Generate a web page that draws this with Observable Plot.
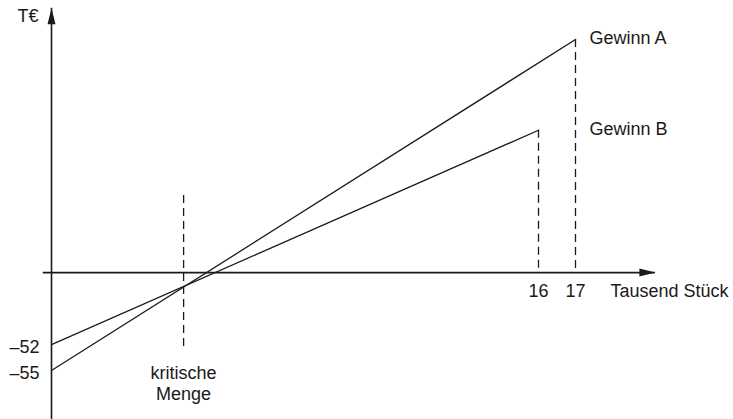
<!DOCTYPE html>
<html><head><meta charset="utf-8">
<script src="https://cdn.jsdelivr.net/npm/d3@7"></script>
<script src="https://cdn.jsdelivr.net/npm/@observablehq/plot@0.6"></script>
<style>body{margin:0;background:#fff}svg{display:block}</style>
</head><body><div id="chart"></div>
<script>
// Data (schematic break-even chart, values in T€ and Tausend Stück)
const mengeA = [0, 17];
const gewinnA = [-55, 131];
const mengeB = [0, 16];
const gewinnB = [-52, 80];
const kritischeMenge = 4.34;
const kritischBereich = [43.3, -52.58];
const xTicks = [16, 17];
const xTickLabels = ["16", "17"];
const yTicks = [-52, -55];
const yTickLabels = ["\u201352", "\u201355"];
const xAxisExtent = [-0.27, 19.16];
const yAxisExtent = [-61, 148.5];
const seriesNames = ["Gewinn A", "Gewinn B"];
const xTitle = "Tausend Stück";
const yTitle = "T€";
const kritLabel = "kritische\nMenge";

// The original drawing is schematic (not to scale): these map values onto the drawing's axes
const xSchema = d3.scaleLinear().domain([0, 16, 17]).range([0, 16, 17.215]);
const ySchema = d3.scaleLinear().domain([-55, -52, 0, 131]).range([-55, -40.46, 0, 131]);

const lineA = mengeA.map((x, i) => ({x, y: gewinnA[i]}));
const lineB = mengeB.map((x, i) => ({x, y: gewinnB[i]}));
const ends = [
  {x: mengeA[1], y: gewinnA[1], name: seriesNames[0]},
  {x: mengeA[1], y: gewinnB[1], name: seriesNames[1]}
];

const arrowUp = {draw(c) { c.moveTo(0, 0); c.lineTo(4, 16); c.lineTo(-4, 16); c.closePath(); }};
const arrowRight = {draw(c) { c.moveTo(0, 0); c.lineTo(-16, -4); c.lineTo(-16, 4); c.closePath(); }};

const ink = "#1a1a1a";
const font = "Liberation Sans, Arial, Helvetica, sans-serif";
const fs = 18;

const chart = Plot.plot({
  width: 733,
  height: 419,
  margin: 0,
  style: {fontFamily: font, background: "#fff", color: ink},
  x: {transform: xSchema, domain: [xSchema(0), xSchema(17)], range: [51, 575], axis: null},
  y: {transform: ySchema, domain: [ySchema(-55), ySchema(131)], range: [370, 39], axis: null},
  marks: [
    // axes
    Plot.ruleY([0], {x1: xAxisExtent[0], x2: xAxisExtent[1], stroke: ink, strokeWidth: 1.6}),
    Plot.ruleX([0], {y1: yAxisExtent[0], y2: yAxisExtent[1], stroke: ink, strokeWidth: 1.6}),
    Plot.dot([{x: 0, y: yAxisExtent[1]}], {x: "x", y: "y", symbol: arrowUp, fill: ink, stroke: null}),
    Plot.dot([{x: xAxisExtent[1], y: 0}], {x: "x", y: "y", symbol: arrowRight, fill: ink, stroke: null}),
    // dashed verticals
    Plot.ruleX([mengeA[1]], {y1: gewinnA[1], y2: 0, stroke: ink, strokeWidth: 1.3, strokeDasharray: "8,5"}),
    Plot.ruleX([mengeB[1]], {y1: gewinnB[1], y2: 0, stroke: ink, strokeWidth: 1.3, strokeDasharray: "8,5"}),
    Plot.ruleX([kritischeMenge], {y1: kritischBereich[0], y2: kritischBereich[1], stroke: ink, strokeWidth: 1.3, strokeDasharray: "8,5"}),
    // profit lines
    Plot.line(lineA, {x: "x", y: "y", stroke: ink, strokeWidth: 1.3}),
    Plot.line(lineB, {x: "x", y: "y", stroke: ink, strokeWidth: 1.3}),
    // tick labels
    Plot.text(xTicks, {x: d => d, y: 0, text: (d, i) => xTickLabels[i], dy: 19, fontSize: fs, fill: ink}),
    Plot.text(yTicks, {x: 0, y: d => d, text: (d, i) => yTickLabels[i], textAnchor: "end", dx: -12, dy: 3, fontSize: fs, fill: ink}),
    // titles
    Plot.text([xTitle], {x: mengeA[1], y: 0, text: d => d, textAnchor: "start", dx: 35, dy: 19, fontSize: fs, fill: ink}),
    Plot.text([yTitle], {x: 0, y: yAxisExtent[1], text: d => d, textAnchor: "end", dx: -13, dy: 8, fontSize: fs, fill: ink}),
    Plot.text(ends, {x: "x", y: "y", text: "name", textAnchor: "start", dx: 14, dy: -1, fontSize: fs, fill: ink}),
    Plot.text([kritLabel], {x: kritischeMenge, y: yTicks[1], text: d => d, dy: 12.5, lineHeight: 1.17, fontSize: fs, fill: ink})
  ]
});
document.getElementById("chart").append(chart);
</script>
</body></html>
